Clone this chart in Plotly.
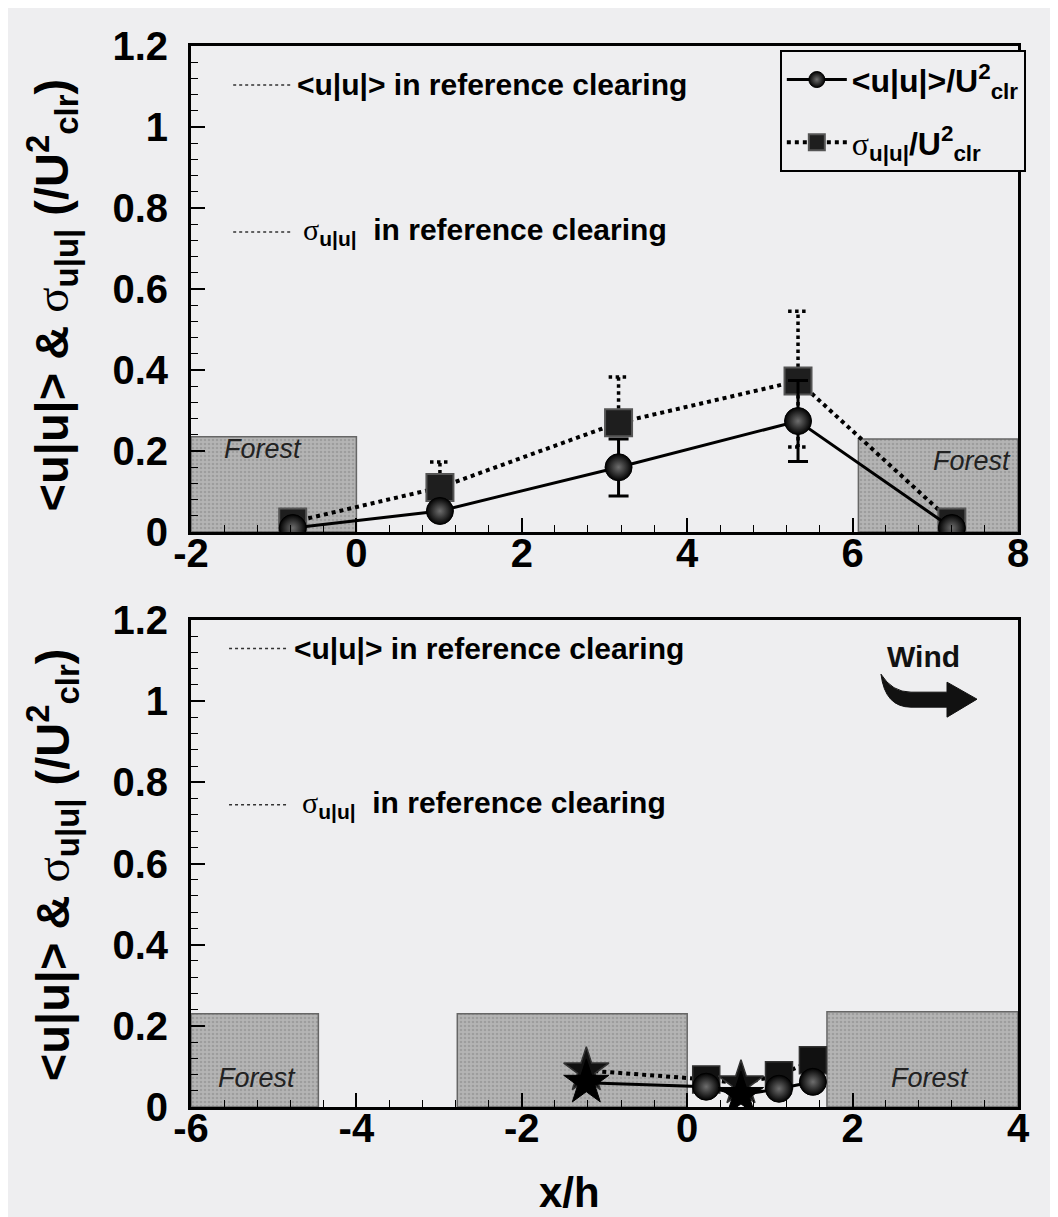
import plotly.graph_objects as go

# ---------------- data ----------------
# top panel
x_top = [-0.77, 1.01, 3.17, 5.34, 7.2]
mean_top = [0.01, 0.052, 0.16, 0.274, 0.01]
sigma_top = [0.025, 0.11, 0.27, 0.373, 0.025]
mean_top_err_up = [0, 0, 0.07, 0.10, 0]
mean_top_err_dn = [0, 0, 0.071, 0.10, 0]
sigma_top_err_up = [0, 0.063, 0.113, 0.172, 0]
sigma_top_err_dn = [0, 0, 0, 0.163, 0]

# bottom panel
x_bot = [-1.22, 0.23, 0.65, 1.11, 1.52]
mean_bot = [0.06, 0.05, 0.03, 0.045, 0.062]
sigma_bot = [0.09, 0.068, 0.058, 0.078, 0.115]
mean_bot_symbols = ["star", "circle", "star", "circle", "circle"]
sigma_bot_symbols = ["star", "square", "star", "square", "square"]

# reference clearing values (short dotted marks)
ref_mean_top, ref_sigma_top = 1.104, 0.741
ref_mean_bot, ref_sigma_bot = 1.13, 0.745
ref_seg_top = [-1.49, -0.79]
ref_seg_bot = [-5.54, -4.83]

# forest patches: (start, end, height)
forest_top_start = [-2.0, 6.07]
forest_top_end = [0.0, 8.0]
forest_top_h = [0.235, 0.23]
forest_bot_start = [-6.0, -2.78, 1.69]
forest_bot_end = [-4.46, 0.0, 4.0]
forest_bot_h = [0.23, 0.23, 0.235]

y_ticks = [0, 0.2, 0.4, 0.6, 0.8, 1, 1.2]
y_tick_labels = ["0", "0.2", "0.4", "0.6", "0.8", "1", "1.2"]
x_ticks_top = [-2, 0, 2, 4, 6, 8]
x_tick_labels_top = ["-2", "0", "2", "4", "6", "8"]
x_ticks_bot = [-6, -4, -2, 0, 2, 4]
x_tick_labels_bot = ["-6", "-4", "-2", "0", "2", "4"]

# ---------------- styles ----------------
BG = "#eeeef0"
FONT = "Liberation Sans"
SIG = "<span style='font-family:Liberation Serif;font-weight:normal'>σ</span>"

fig = go.Figure()


def add_forest(starts, ends, heights, xa, ya):
    fig.add_trace(go.Bar(
        x=[(s + e) / 2 for s, e in zip(starts, ends)],
        y=heights,
        width=[e - s for s, e in zip(starts, ends)],
        base=0,
        marker=dict(color="#b0b0b0",
                    line=dict(color="#666666", width=1.5),
                    pattern=dict(shape=".", fgcolor="#858585", bgcolor="#b4b4b4",
                                 size=4, solidity=0.35)),
        xaxis=xa, yaxis=ya, showlegend=False, hoverinfo="skip"))


add_forest(forest_top_start, forest_top_end, forest_top_h, "x", "y")
add_forest(forest_bot_start, forest_bot_end, forest_bot_h, "x2", "y2")

# reference clearing dotted marks
for seg, vals, xa, ya in [(ref_seg_top, (ref_mean_top, ref_sigma_top), "x", "y"),
                          (ref_seg_bot, (ref_mean_bot, ref_sigma_bot), "x2", "y2")]:
    for v in vals:
        fig.add_trace(go.Scatter(x=seg, y=[v, v], mode="lines",
                                 line=dict(color="#333", width=1.5, dash="dot"),
                                 xaxis=xa, yaxis=ya, showlegend=False, hoverinfo="skip"))

# dotted error bars for sigma (top)
ex, ey = [], []
cap = 0.12
for xv, yv, up, dn in zip(x_top, sigma_top, sigma_top_err_up, sigma_top_err_dn):
    if up > 0:
        ex += [xv, xv, None, xv - cap, xv + cap, None]
        ey += [yv, yv + up, None, yv + up, yv + up, None]
    if dn > 0:
        ex += [xv, xv, None, xv - cap, xv + cap, None]
        ey += [yv, yv - dn, None, yv - dn, yv - dn, None]
fig.add_trace(go.Scatter(x=ex, y=ey, mode="lines",
                         line=dict(color="black", width=3.5, dash="dot"),
                         xaxis="x", yaxis="y", showlegend=False, hoverinfo="skip"))

circle_marker = dict(symbol="circle", size=27, color="black", opacity=1,
                     gradient=dict(type="radial", color="#6e6e6e"),
                     line=dict(color="black", width=1))
square_marker = dict(symbol="square", size=27, color="#1e1e1e", opacity=1,
                     line=dict(color="#555555", width=2))

# top: sigma series
fig.add_trace(go.Scatter(
    x=x_top, y=sigma_top, mode="lines+markers",
    name=SIG + "<sub>u|u|</sub>/U<sup>2</sup><sub>clr</sub>",
    legendgroup="s", legendrank=2,
    line=dict(color="black", width=4, dash="dot"),
    marker=square_marker, xaxis="x", yaxis="y"))

# top: mean series
fig.add_trace(go.Scatter(
    x=x_top, y=mean_top, mode="lines+markers",
    name="&lt;u|u|&gt;/U<sup>2</sup><sub>clr</sub>",
    legendgroup="m", legendrank=1,
    line=dict(color="black", width=3),
    marker=circle_marker,
    error_y=dict(type="data", symmetric=False, array=mean_top_err_up,
                 arrayminus=mean_top_err_dn, color="black", thickness=3, width=10),
    xaxis="x", yaxis="y"))

# bottom: sigma series
fig.add_trace(go.Scatter(
    x=x_bot, y=sigma_bot, mode="lines+markers",
    line=dict(color="black", width=4, dash="dot"),
    marker=dict(symbol=sigma_bot_symbols, size=[34, 27, 34, 27, 27], color="#111111",
                opacity=1, line=dict(color="#333333", width=1.5)),
    xaxis="x2", yaxis="y2", showlegend=False))

# bottom: mean series
fig.add_trace(go.Scatter(
    x=x_bot, y=mean_bot, mode="lines+markers",
    line=dict(color="black", width=3),
    marker=dict(symbol=mean_bot_symbols, size=[34, 27, 34, 27, 27], color="black",
                opacity=1,
                gradient=dict(type=["none", "radial", "none", "radial", "radial"],
                              color="#6e6e6e"),
                line=dict(color="black", width=1)),
    xaxis="x2", yaxis="y2", showlegend=False))

# ---------------- axes ----------------
axis_common = dict(showline=True, linecolor="black", linewidth=3, mirror=True,
                   ticks="inside", ticklen=14, tickwidth=1.5, tickcolor="black",
                   showgrid=False, zeroline=False,
                   tickfont=dict(family=FONT, size=40, color="black", weight="bold"))
minor_x = dict(dtick=0.4, ticklen=7, ticks="inside", tickcolor="black", tickwidth=1)
minor_y = dict(dtick=0.04, ticklen=7, ticks="inside", tickcolor="black", tickwidth=1)

fig.update_layout(
    xaxis=dict(domain=[0, 1], range=[-2, 8], tickvals=x_ticks_top, ticktext=x_tick_labels_top,
               anchor="y", minor=minor_x, ticklabelstandoff=-16, **axis_common),
    yaxis=dict(domain=[0.5419, 1], range=[0, 1.2], tickvals=y_ticks, ticktext=y_tick_labels,
               anchor="x", minor=minor_y, ticklabelstandoff=12, **axis_common),
    xaxis2=dict(domain=[0, 1], range=[-6, 4], tickvals=x_ticks_bot, ticktext=x_tick_labels_bot,
                anchor="y2", minor=minor_x, ticklabelstandoff=-16, **axis_common),
    yaxis2=dict(domain=[0, 0.459], range=[0, 1.2], tickvals=y_ticks, ticktext=y_tick_labels,
                anchor="x2", minor=minor_y, ticklabelstandoff=12, **axis_common),
)

# ---------------- annotations ----------------
ann = []
txt_font = dict(family=FONT, size=30, color="black", weight="bold")
ann.append(dict(x=ref_seg_top[1] + 0.05, y=ref_mean_top, xref="x", yref="y",
                text="&lt;u|u|&gt; in reference clearing", showarrow=False,
                xanchor="left", yanchor="middle", font=txt_font))
ann.append(dict(x=ref_seg_top[1] + 0.12, y=ref_sigma_top, xref="x", yref="y",
                text=SIG + "<sub>u|u|</sub>  in reference clearing", showarrow=False,
                xanchor="left", yanchor="middle", font=txt_font))
ann.append(dict(x=ref_seg_bot[1] + 0.05, y=ref_mean_bot, xref="x2", yref="y2",
                text="&lt;u|u|&gt; in reference clearing", showarrow=False,
                xanchor="left", yanchor="middle", font=txt_font))
ann.append(dict(x=ref_seg_bot[1] + 0.15, y=ref_sigma_bot, xref="x2", yref="y2",
                text=SIG + "<sub>u|u|</sub>  in reference clearing", showarrow=False,
                xanchor="left", yanchor="middle", font=txt_font))

forest_font = dict(family=FONT, size=27, color="#222", style="italic")
for xv, yv, xr, yr in [(-1.13, 0.205, "x", "y"), (7.44, 0.175, "x", "y"),
                       (-5.2, 0.071, "x2", "y2"), (2.94, 0.071, "x2", "y2")]:
    ann.append(dict(x=xv, y=yv, xref=xr, yref=yr, text="Forest", showarrow=False,
                    font=forest_font))

ytitle = ("&lt;u|u|&gt; &amp; " + SIG + "<sub>u|u|</sub> (/U<sup>2</sup><sub>clr</sub>)")
for yc in [0.765, 0.228]:
    ann.append(dict(x=-0.168, y=yc, xref="paper", yref="paper", text=ytitle,
                    textangle=-90, showarrow=False, xanchor="center", yanchor="middle",
                    font=dict(family=FONT, size=47, color="black", weight="bold")))

ann.append(dict(x=0.458, y=-0.105, xref="paper", yref="paper", text="x/h",
                showarrow=False, font=dict(family=FONT, size=42, color="black", weight="bold")))

ann.append(dict(x=2.86, y=1.11, xref="x2", yref="y2", text="Wind", showarrow=False,
                font=dict(family=FONT, size=30, color="#111", weight="bold")))


# wind arrow shape (decoration) in bottom-panel data coords
def px2d(px, py):
    return ((px - 185) / 82.7 - 6, (1099 - py) / 406.0)


pts = {k: px2d(*v) for k, v in {
    "s": (875, 666), "c1": (879, 699), "b1": (905, 699), "h1": (941, 699),
    "h2": (941, 709), "tip": (971, 691), "h3": (941, 674), "h4": (941, 684),
    "b2": (905, 684), "c2": (886, 684)}.items()}


def P(k):
    return f"{pts[k][0]:.4f},{pts[k][1]:.4f}"


path = (f"M {P('s')} Q {P('c1')} {P('b1')} L {P('h1')} L {P('h2')} L {P('tip')} "
        f"L {P('h3')} L {P('h4')} L {P('b2')} Q {P('c2')} {P('s')} Z")

fig.update_layout(
    shapes=[dict(type="path", path=path, xref="x2", yref="y2",
                 fillcolor="#111", line=dict(color="#111", width=1))],
    annotations=ann,
    width=1058, height=1217,
    margin=dict(l=183, r=48, t=38, b=118),
    paper_bgcolor=BG, plot_bgcolor=BG,
    showlegend=True,
    legend=dict(x=0.712, y=0.996, xanchor="left", yanchor="top",
                bgcolor=BG, bordercolor="black", borderwidth=2,
                font=dict(family=FONT, size=32, color="black", weight="bold"),
                itemwidth=60, traceorder="grouped", tracegroupgap=18),
    barmode="overlay",
)

fig.write_html("out.html")
